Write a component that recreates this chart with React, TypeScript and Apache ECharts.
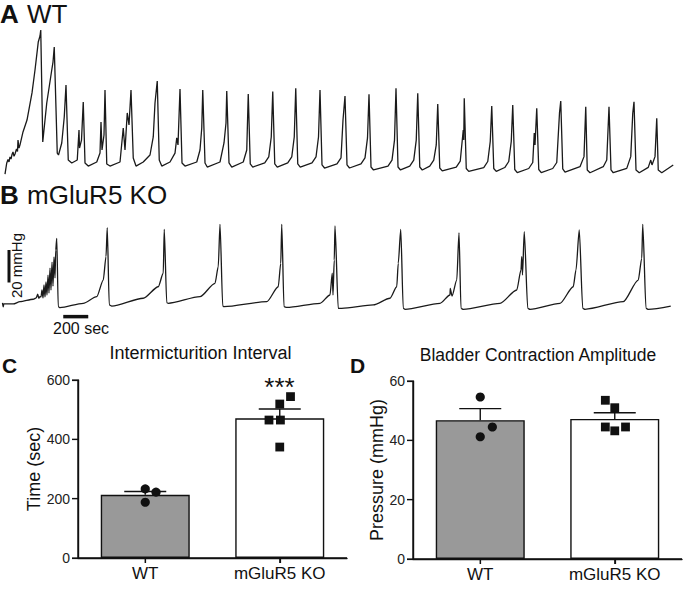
import React, { useEffect, useRef } from "react";
import * as echarts from "echarts";

const FONT = '"Liberation Sans", Arial, Helvetica, sans-serif';
const INK = "#111111";

// Panel A: WT cystometry trace [time (s), pressure (mmHg)]
const wtTrace: [number, number][] = [
  [0, 0.6], [14, 7.4], [24, 9.5], [32, 8.0], [40, 11.1], [48, 9.8], [56, 12.6], [64, 14.2], [72, 11.5], [80, 12.9],
  [92, 16.0], [100, 14.5], [104, 21.5], [112, 16.5], [120, 18.5], [144, 26.5], [176, 33.8], [216, 50.5], [240, 64.6],
  [266, 81.8], [280, 85.5], [286, 89.2],
  [302, 20.3], [334, 44.3], [374, 64.6], [384, 69.5], [394, 78.8],
  [418, 13.5], [428, 12.3], [454, 19.7], [474, 35.7], [488, 55.4],
  [506, 9.2], [534, 7.4], [578, 9.2], [592, 27.7], [596, 16.6], [612, 21.5], [626, 44.9],
  [640, 7.4], [666, 5.5], [734, 8.0], [760, 13.5], [768, 32.6], [776, 15.4], [792, 24.6], [800, 52.3],
  [814, 6.8], [840, 5.5], [920, 8.0], [946, 28.9], [960, 15.4], [978, 38.2], [992, 30.8], [1008, 52.3],
  [1026, 10.5], [1048, 5.5], [1106, 8.0], [1160, 12.3], [1186, 23.4], [1200, 44.3], [1218, 57.8],
  [1234, 9.2], [1254, 5.5], [1320, 8.0], [1360, 13.5], [1374, 22.8], [1384, 18.5], [1400, 52.9],
  [1416, 7.4], [1440, 5.5], [1534, 8.0], [1560, 15.4], [1574, 28.9], [1582, 52.3],
  [1600, 7.4], [1618, 4.9], [1720, 8.0], [1752, 19.7], [1768, 32.0], [1774, 51.7],
  [1792, 7.4], [1814, 4.9], [1906, 8.0], [1934, 15.4], [1946, 49.8],
  [1962, 6.8], [1982, 4.9], [2078, 7.4], [2110, 11.1], [2130, 23.4], [2142, 51.3],
  [2158, 6.8], [2178, 4.9], [2262, 7.4], [2294, 11.1], [2314, 23.4], [2326, 53.4],
  [2342, 6.8], [2362, 4.9], [2456, 7.4], [2488, 11.1], [2508, 23.4], [2520, 52.3],
  [2536, 6.2], [2556, 4.3], [2656, 6.8], [2688, 10.5], [2704, 33.8], [2720, 48.6],
  [2736, 6.2], [2756, 4.3], [2848, 6.8], [2880, 10.5], [2900, 22.8], [2912, 49.7],
  [2928, 4.9], [2948, 3.1], [3064, 5.5], [3096, 9.2], [3116, 21.5], [3128, 53.4],
  [3144, 4.9], [3164, 3.1], [3238, 5.5], [3270, 9.2], [3290, 21.5], [3302, 50.3],
  [3318, 4.9], [3338, 3.1], [3398, 5.5], [3430, 9.2], [3450, 18.5], [3462, 43.7],
  [3478, 4.3], [3498, 2.5], [3610, 4.9], [3642, 8.6], [3666, 27.7], [3670, 21.5], [3674, 47.2],
  [3690, 4.0], [3710, 2.2], [3830, 4.6], [3862, 8.3], [3882, 20.6], [3894, 42.5],
  [3910, 4.0], [3930, 2.2], [3998, 4.6], [4030, 8.3], [4050, 20.6], [4062, 43.1],
  [4078, 3.4], [4098, 1.5], [4190, 4.0], [4222, 7.7], [4234, 25.8], [4240, 18.5], [4254, 41.0],
  [4270, 3.4], [4290, 1.5], [4382, 4.0], [4414, 7.7], [4436, 38.2], [4446, 45.5],
  [4462, 3.7], [4480, 1.8], [4600, 5.1], [4632, 11.3], [4646, 42.0],
  [4658, 3.1], [4680, 1.4], [4786, 5.1], [4814, 9.2], [4832, 42.0],
  [4848, 3.1], [4866, 1.4], [4974, 4.1], [5006, 11.3], [5022, 38.0], [5032, 45.1],
  [5048, 3.1], [5074, 1.4], [5146, 4.7], [5166, 9.2], [5176, 6.2], [5200, 11.3], [5214, 34.9],
  [5226, 3.1], [5254, 1.4], [5346, 6.2],
];

// Panel B: mGluR5 KO cystometry trace [time (s), pressure (mmHg)]
const koTrace: [number, number][] = [
  [-20, 7.5], [-14, 5.0], [-10, 6.8], [66, 6.8], [120, 8.2], [226, 9.7], [250, 10.5], [262, 12.9], [270, 10.2],
  [280, 11.3], [288, 11.1], [296, 15.4], [304, 10.5], [312, 18.5], [320, 11.1], [328, 20.3], [336, 12.3],
  [344, 24.6], [352, 13.5], [360, 28.9], [368, 15.4], [376, 32.6], [384, 17.8], [392, 35.7], [400, 22.8],
  [406, 40.0], [414, 47.2],
  [426, 5.1], [440, 4.5], [626, 7.2], [734, 11.3], [786, 21.5], [808, 35.9], [818, 53.7],
  [834, 6.2], [854, 5.5], [1106, 10.3], [1226, 17.4], [1266, 25.7], [1274, 52.7],
  [1294, 7.6], [1306, 7.2], [1560, 11.3], [1680, 19.5], [1706, 29.7], [1720, 55.8],
  [1742, 5.5], [1752, 5.1], [2094, 8.2], [2186, 17.4], [2206, 31.8], [2214, 55.8],
  [2232, 5.1], [2254, 4.7], [2520, 7.2], [2600, 12.3], [2618, 25.7], [2624, 12.3], [2634, 33.8], [2640, 54.8],
  [2666, 4.1], [2694, 4.1], [2946, 6.2], [3080, 10.3], [3134, 17.4], [3146, 31.8], [3166, 52.7],
  [3186, 4.1], [3200, 3.5], [3480, 7.2], [3560, 12.3], [3562, 16.4], [3576, 11.7], [3614, 21.5], [3632, 50.6],
  [3648, 4.1], [3666, 3.5], [3960, 7.2], [4094, 15.4], [4128, 27.7], [4134, 35.9], [4140, 24.6], [4154, 51.3],
  [4182, 4.1], [4200, 3.5], [4440, 7.2], [4546, 17.4], [4568, 27.7], [4594, 52.3],
  [4622, 4.1], [4640, 3.5], [4946, 8.2], [5066, 21.5], [5094, 34.9], [5102, 55.8],
  [5128, 4.1], [5146, 3.5], [5326, 5.5],
];

// Scale bars (20 mmHg, 200 sec)
const scaleBarPressure: [number, number][] = [[32, 20], [32, 40]];
const scaleBarTime: [number, number][] = [[466, -1], [666, -1]];

// Panels C and D: dots are [category index, value, horizontal offset as a fraction of the category band]
const categories = ["WT", "mGluR5 KO"];
const intervalMean = [213, 471];
const intervalErrTop = [224, 502];
const intervalWtPoints: [number, number, number][] = [[0, 233, 0], [0, 222, 0.08], [0, 188, 0]];
const intervalKoPoints: [number, number, number][] = [[1, 544, 0.08], [1, 519, 0], [1, 465, -0.08], [1, 465, 0.005], [1, 374, 0]];
const intervalTicks = [0, 200, 400, 600];

const amplitudeMean = [46.8, 47.2];
const amplitudeErrTop = [50.7, 49.3];
const amplitudeWtPoints: [number, number, number][] = [[0, 54.6, 0], [0, 44.5, 0.09], [0, 41.2, 0]];
const amplitudeKoPoints: [number, number, number][] = [[1, 53.5, -0.07], [1, 51, 0], [1, 44.5, -0.07], [1, 44.5, 0.08], [1, 43.2, 0]];
const amplitudeTicks = [0, 20, 40, 60];

const barColors = ["#999999", "#ffffff"];

const GRIDS = [
  { left: 78, top: 380, width: 269, height: 178 },
  { left: 413, top: 381, width: 269, height: 178 },
];

function text(x: number, y: number, t: string, size: number, opts: any = {}) {
  return {
    type: "text",
    x,
    y,
    rotation: opts.rotation || 0,
    style: {
      text: t,
      fontSize: size,
      fontFamily: FONT,
      fontWeight: opts.bold ? "bold" : "normal",
      fill: INK,
      align: opts.align || "left",
      verticalAlign: "middle",
      textAlign: opts.align || "left",
      textVerticalAlign: "middle",
    },
  };
}

function errRender(params: any, api: any) {
  const x = api.value(0);
  const p0 = api.coord([x, api.value(1)]);
  const p1 = api.coord([x, api.value(2)]);
  const half = 21;
  return {
    type: "group",
    children: [
      { type: "line", shape: { x1: p0[0], y1: p0[1], x2: p1[0], y2: p1[1] }, style: { stroke: INK, lineWidth: 1.4 } },
      { type: "line", shape: { x1: p1[0] - half, y1: p1[1], x2: p1[0] + half, y2: p1[1] }, style: { stroke: INK, lineWidth: 1.4 } },
    ],
  };
}

function dotRender(shape: "circle" | "rect") {
  return (params: any, api: any) => {
    const p = api.coord([api.value(0), api.value(1)]);
    const band = api.size([1, 0])[0];
    const cx = p[0] + api.value(2) * band;
    if (shape === "circle") {
      return { type: "circle", shape: { cx, cy: p[1], r: 4.6 }, style: { fill: INK } };
    }
    return { type: "rect", shape: { x: cx - 4.4, y: p[1] - 4.4, width: 8.8, height: 8.8 }, style: { fill: INK } };
  };
}

// Axis lines and tick marks, placed through the panel's own scales
function axisFrameRender(ticks: number[]) {
  return (params: any, api: any) => {
    const cs = params.coordSys;
    const x0 = cs.x;
    const x1 = cs.x + cs.width;
    const yb = cs.y + cs.height;
    const yt = cs.y;
    const st = { stroke: INK, lineWidth: 1.4 };
    const children: any[] = [
      { type: "line", shape: { x1: x0, y1: yt, x2: x0, y2: yb }, style: st },
      { type: "line", shape: { x1: x0, y1: yb, x2: x1, y2: yb }, style: st },
    ];
    ticks.forEach((t) => {
      const y = api.coord([0, t])[1];
      children.push({ type: "line", shape: { x1: x0 - 6, y1: y, x2: x0, y2: y }, style: { stroke: INK, lineWidth: 1.2 } });
    });
    categories.forEach((_, i) => {
      const x = api.coord([i, ticks[0]])[0];
      children.push({ type: "line", shape: { x1: x, y1: yb, x2: x, y2: yb + 5 }, style: { stroke: INK, lineWidth: 1.2 } });
    });
    return { type: "group", children };
  };
}

function catAxis(grid: number, visible: boolean) {
  if (!visible) return { type: "category", gridIndex: grid, data: categories, show: false };
  return {
    type: "category",
    gridIndex: grid,
    data: categories,
    axisLine: { show: true, lineStyle: { color: INK, width: 1.4 } },
    axisTick: { show: true, alignWithLabel: true, length: 5, lineStyle: { color: INK, width: 1.2 } },
    axisLabel: { fontSize: 17, color: INK, fontFamily: FONT, margin: 7 },
  };
}

function valAxis(grid: number, ticks: number[], visible: boolean, name = "", nameGap = 0) {
  const base: any = {
    type: "value",
    gridIndex: grid,
    min: ticks[0],
    max: ticks[ticks.length - 1],
    interval: ticks[1] - ticks[0],
  };
  if (!visible) return { ...base, show: false };
  return {
    ...base,
    axisLine: { show: true, lineStyle: { color: INK, width: 1.4 } },
    axisTick: { show: true, length: 6, lineStyle: { color: INK, width: 1.2 } },
    splitLine: { show: false },
    axisLabel: { fontSize: 14, color: "#222", fontFamily: FONT, margin: 8 },
    name,
    nameLocation: "middle",
    nameGap,
    nameTextStyle: { fontSize: 18, color: INK, fontFamily: FONT },
  };
}

function traceOption(): any {
  const hidden = { show: false };
  const traceLine = { color: "#1a1a1a", width: 1.3 };
  return {
    animation: false,
    grid: [
      { left: 0, top: 20.6, width: 680, height: 154.4 },
      { left: 0, top: 217.5, width: 680, height: 113.75 },
    ],
    xAxis: [
      { type: "value", gridIndex: 0, min: -40, max: 5400, ...hidden },
      { type: "value", gridIndex: 1, min: -40, max: 5400, ...hidden },
    ],
    yAxis: [
      { type: "value", gridIndex: 0, min: 0, max: 95, ...hidden },
      { type: "value", gridIndex: 1, min: -10, max: 60, ...hidden },
    ],
    series: [
      { type: "line", xAxisIndex: 0, yAxisIndex: 0, data: wtTrace, showSymbol: false, clip: false, lineStyle: traceLine },
      { type: "line", xAxisIndex: 1, yAxisIndex: 1, data: koTrace, showSymbol: false, clip: false, smooth: 0.25, smoothMonotone: "x", lineStyle: traceLine },
      { type: "line", xAxisIndex: 1, yAxisIndex: 1, data: scaleBarPressure, showSymbol: false, clip: false, lineStyle: { color: INK, width: 3 } },
      { type: "line", xAxisIndex: 1, yAxisIndex: 1, data: scaleBarTime, showSymbol: false, clip: false, lineStyle: { color: INK, width: 3.5 } },
    ],
    graphic: [
      text(0, 14, "A", 26, { bold: true }),
      text(27, 14, "WT", 26),
      text(0, 195, "B", 26, { bold: true }),
      text(27, 195, "mGluR5 KO", 26),
      text(16, 265.5, "20 mmHg", 15, { align: "center", rotation: Math.PI / 2 }),
      text(81, 328, "200 sec", 16, { align: "center" }),
    ],
  };
}

// Axes (labels, names) and bars
function barsOption(): any {
  const barSeries = (axis: number, mean: number[]) => ({
    type: "bar", xAxisIndex: axis, yAxisIndex: axis, barWidth: 89,
    data: mean.map((v, i) => ({ value: v, itemStyle: { color: barColors[i], borderColor: INK, borderWidth: 1.4 } })),
  });
  return {
    animation: false,
    grid: GRIDS,
    xAxis: [catAxis(0, true), catAxis(1, true)],
    yAxis: [
      valAxis(0, intervalTicks, true, "Time (sec)", 26),
      valAxis(1, amplitudeTicks, true, "Pressure (mmHg)", 17),
    ],
    series: [barSeries(0, intervalMean), barSeries(1, amplitudeMean)],
  };
}

// Axis frame, error bars, individual animals and titles, on the same (hidden) axes
function overlayOption(): any {
  const panel = (axis: number, ticks: number[], mean: number[], errTop: number[], wt: any[], ko: any[]) => [
    {
      type: "custom", xAxisIndex: axis, yAxisIndex: axis, renderItem: axisFrameRender(ticks), z: 2,
      encode: { x: 0, y: 1 },
      data: [[0, ticks[0]]],
    },
    {
      type: "custom", xAxisIndex: axis, yAxisIndex: axis, renderItem: errRender, z: 3,
      encode: { x: 0, y: 2 },
      data: mean.map((v, i) => [i, v, errTop[i]]),
    },
    { type: "custom", xAxisIndex: axis, yAxisIndex: axis, renderItem: dotRender("circle"), z: 4, encode: { x: 0, y: 1 }, data: wt },
    { type: "custom", xAxisIndex: axis, yAxisIndex: axis, renderItem: dotRender("rect"), z: 4, encode: { x: 0, y: 1 }, data: ko },
  ];
  return {
    animation: false,
    grid: GRIDS,
    xAxis: [catAxis(0, false), catAxis(1, false)],
    yAxis: [valAxis(0, intervalTicks, false), valAxis(1, amplitudeTicks, false)],
    series: [
      ...panel(0, intervalTicks, intervalMean, intervalErrTop, intervalWtPoints, intervalKoPoints),
      ...panel(1, amplitudeTicks, amplitudeMean, amplitudeErrTop, amplitudeWtPoints, amplitudeKoPoints),
    ],
    graphic: [
      text(2, 365, "C", 21, { bold: true }),
      text(350, 365, "D", 21, { bold: true }),
      text(200.5, 353, "Intermicturition Interval", 18, { align: "center" }),
      text(538, 354.5, "Bladder Contraction Amplitude", 17.5, { align: "center" }),
      text(279.5, 387, "***", 26, { align: "center" }),
    ],
  };
}

export default function App() {
  const traceRef = useRef<HTMLDivElement>(null);
  const barRef = useRef<HTMLDivElement>(null);
  const overRef = useRef<HTMLDivElement>(null);
  useEffect(() => {
    if (!traceRef.current || !barRef.current || !overRef.current) return;
    const bars = echarts.init(barRef.current, null, { renderer: "svg" });
    const over = echarts.init(overRef.current, null, { renderer: "svg" });
    const trace = echarts.init(traceRef.current, null, { renderer: "svg" });
    bars.setOption(barsOption());
    over.setOption(overlayOption());
    trace.setOption(traceOption());
    return () => {
      bars.dispose();
      over.dispose();
      trace.dispose();
    };
  }, []);
  const layer: React.CSSProperties = { position: "absolute", left: 0, top: 0, width: 685, height: 593 };
  return (
    <div style={{ position: "fixed", left: 0, top: 0, width: 685, height: 593, background: "#fff" }}>
      <div ref={barRef} style={layer} />
      <div ref={overRef} style={{ ...layer, pointerEvents: "none" }} />
      <div ref={traceRef} style={{ ...layer, pointerEvents: "none" }} />
    </div>
  );
}
